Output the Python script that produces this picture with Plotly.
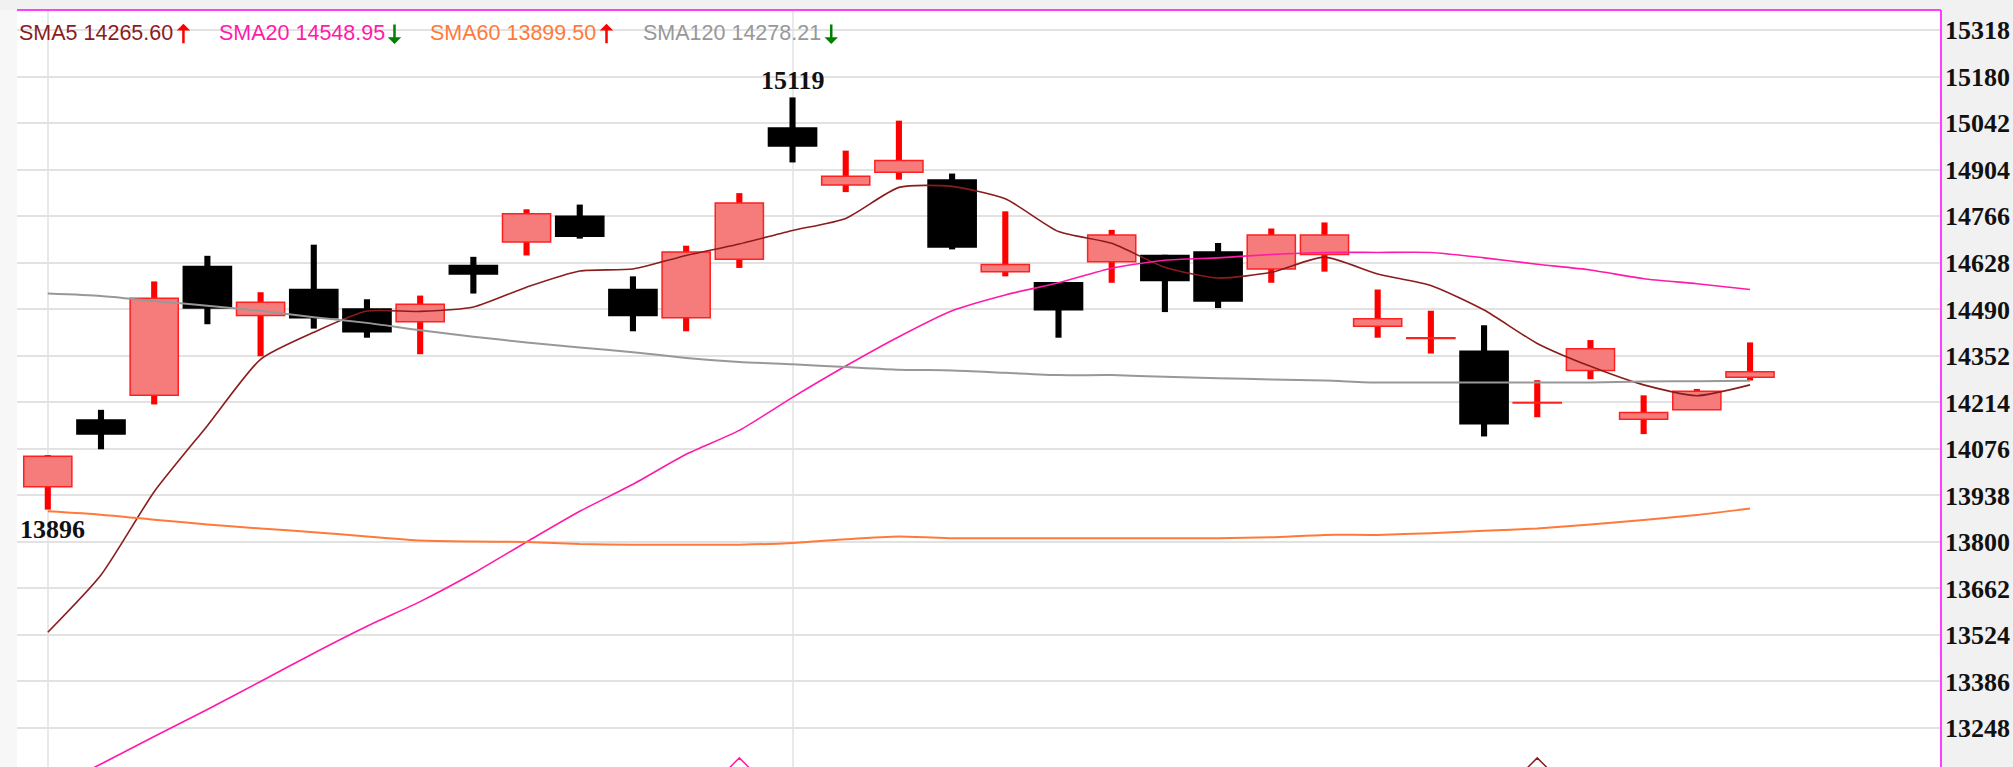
import plotly.graph_objects as go

# ---------------- data ----------------
days = list(range(33))
opens = [13964, 14162, 14235, 14617, 14472, 14549, 14491, 14453, 14620, 14690, 14766,
         14549, 14465, 14639, 15028, 14859, 14897, 14874, 14602, 14569, 14631, 14650,
         14660, 14610, 14653, 14440, 14404, 14366, 14212, 14309, 14164, 14192, 14289]
highs = [14058, 14192, 14573, 14649, 14541, 14682, 14520, 14531, 14646, 14787, 14801,
         14588, 14679, 14835, 15119, 14961, 15050, 14893, 14781, 14571, 14726, 14652,
         14687, 14730, 14748, 14549, 14486, 14443, 14280, 14399, 14235, 14254, 14392]
lows = [13896, 14075, 14208, 14446, 14351, 14433, 14406, 14357, 14537, 14650, 14700,
        14425, 14425, 14613, 14926, 14838, 14875, 14668, 14588, 14406, 14569, 14482,
        14494, 14569, 14602, 14406, 14359, 14113, 14170, 14283, 14120, 14192, 14279]
closes = [14054, 14120, 14523, 14494, 14511, 14465, 14424, 14505, 14595, 14774, 14707,
          14472, 14660, 14806, 14975, 14885, 14932, 14675, 14623, 14489, 14711, 14576,
          14515, 14711, 14711, 14462, 14406, 14151, 14214, 14373, 14184, 14247, 14305]

sma5 = [13532, 13702, 13949, 14145, 14342, 14422, 14485, 14484, 14497, 14556, 14604,
        14610, 14650, 14684, 14724, 14760, 14852, 14855, 14818, 14721, 14686, 14615,
        14583, 14600, 14645, 14595, 14561, 14488, 14389, 14321, 14266, 14234, 14266]
sma20 = [13062, 13141, 13223, 13303, 13386, 13470, 13550, 13623, 13707, 13800, 13891,
         13971, 14060, 14131, 14229, 14322, 14409, 14486, 14533, 14569, 14612, 14636,
         14643, 14653, 14659, 14659, 14659, 14643, 14624, 14607, 14581, 14566, 14549]
sma60 = [13891, 13881, 13866, 13852, 13840, 13829, 13816, 13804, 13801, 13800, 13794,
         13792, 13792, 13792, 13797, 13808, 13816, 13811, 13811, 13811, 13811, 13811,
         13811, 13814, 13821, 13821, 13826, 13833, 13840, 13852, 13865, 13880, 13899]
sma120 = [14537, 14530, 14515, 14501, 14486, 14467, 14450, 14428, 14409, 14392, 14377,
          14363, 14346, 14334, 14327, 14319, 14311, 14309, 14302, 14295, 14295, 14290,
          14286, 14282, 14279, 14273, 14273, 14273, 14273, 14273, 14276, 14277, 14278]

ma_names = ["SMA5", "SMA20", "SMA60", "SMA120"]
ma_last = ["14265.60", "14548.95", "13899.50", "14278.21"]
ma_trend = ["up", "down", "up", "down"]

y_ticks = [13248, 13386, 13524, 13662, 13800, 13938, 14076, 14214,
           14352, 14490, 14628, 14766, 14904, 15042, 15180, 15318]
month_starts = [0, 14]
signal_days = [13, 28]
signal_level = [13117, 13117]

# ---------------- styles ----------------
UP_FILL = "#f67c7c"
UP_EDGE = "#ff2020"
UP_WICK = "#ff0000"
DOWN = "#000000"
MA_COLORS = ["#8b1c1c", "#ff1aa8", "#ff7a3a", "#989898"]
MA_WIDTHS = [1.6, 1.6, 2.0, 2.0]
SERIF = "Liberation Serif, Times New Roman, serif"
SANS = "Liberation Sans, Arial, sans-serif"

is_up = [c >= o for o, c in zip(opens, closes)]

fig = go.Figure()

# wicks
fig.add_trace(go.Bar(
    x=days, y=[h - l for h, l in zip(highs, lows)], base=lows, width=0.115,
    marker=dict(color=[UP_WICK if u else DOWN for u in is_up], line=dict(width=0)),
    hoverinfo="skip", showlegend=False))
# bodies
fig.add_trace(go.Bar(
    x=days, y=[abs(c - o) for o, c in zip(opens, closes)],
    base=[min(o, c) for o, c in zip(opens, closes)], width=0.905,
    marker=dict(color=[UP_FILL if u else DOWN for u in is_up],
                line=dict(color=[UP_EDGE if u else DOWN for u in is_up], width=1.5)),
    hoverinfo="skip", showlegend=False))

for series, col, w in zip([sma5, sma20, sma60, sma120], MA_COLORS, MA_WIDTHS):
    fig.add_trace(go.Scatter(x=days, y=series, mode="lines",
                             line=dict(color=col, width=w, shape="spline", smoothing=0.6),
                             hoverinfo="skip", showlegend=False))

fig.add_trace(go.Scatter(
    x=signal_days, y=signal_level, mode="markers",
    marker=dict(symbol="diamond-open", size=22, color=[MA_COLORS[1], MA_COLORS[0]],
                line=dict(width=1.5, color=[MA_COLORS[1], MA_COLORS[0]])),
    hoverinfo="skip", showlegend=False))

# peak / trough labels
fig.add_annotation(x=days[highs.index(max(highs))], y=max(highs), text=str(max(highs)),
                   showarrow=False, yanchor="middle", yshift=17,
                   font=dict(family=SERIF, size=26, color="#111111", weight="bold"))
fig.add_annotation(x=days[lows.index(min(lows))], y=min(lows), text=str(min(lows)),
                   showarrow=False, yanchor="middle", yshift=-20, xshift=5,
                   font=dict(family=SERIF, size=26, color="#111111", weight="bold"))

# moving-average legend row (text + drawn trend arrow)
legend_x = [0.0002, 0.1038, 0.2136, 0.3242]
arrow_x = [0.0865, 0.1962, 0.3064, 0.4232]
for name, val, trend, col, lx, axp in zip(ma_names, ma_last, ma_trend, MA_COLORS,
                                          legend_x, arrow_x):
    fig.add_annotation(xref="paper", yref="paper", x=lx, y=0.9696, xanchor="left",
                       yanchor="middle", showarrow=False,
                       text=f"{name} {val}",
                       font=dict(family=SANS, size=21.5, color=col))
    up = trend == "up"
    fig.add_annotation(xref="paper", yref="paper", x=axp,
                       y=0.982 if up else 0.955, text="", showarrow=True,
                       ax=0, ay=21 if up else -21, arrowhead=1, arrowsize=0.9,
                       arrowwidth=2.5, standoff=0, startstandoff=0,
                       arrowcolor="#ff0000" if up else "#008000")

# frame: left patterned strip, top and right magenta borders
fig.add_shape(type="rect", xref="paper", yref="paper", x0=-0.0089, x1=0, y0=0, y1=1,
              fillcolor="#f7f7f7", line=dict(width=0), layer="below")
fig.add_shape(type="line", xref="paper", yref="paper", x0=0, x1=1, y0=1, y1=1,
              line=dict(color="#ff3cff", width=2))
fig.add_shape(type="line", xref="paper", yref="paper", x0=1, x1=1, y0=0, y1=1,
              line=dict(color="#ff3cff", width=2))

fig.update_layout(
    width=2013, height=767, autosize=False,
    margin=dict(l=17, r=72, t=10, b=0, pad=0),
    paper_bgcolor="#f1f1f1", plot_bgcolor="#ffffff",
    barmode="overlay", showlegend=False,
    xaxis=dict(range=[-0.579, 35.59], tickvals=month_starts, showticklabels=False,
               ticks="", showgrid=True, gridcolor="#e9e9e9", gridwidth=1.5,
               zeroline=False, showline=False, automargin=False),
    yaxis=dict(range=[13132.3, 15378.3], side="right", tickvals=y_ticks,
               ticktext=[str(v) for v in y_ticks], ticks="", ticklabelstandoff=3,
               tickfont=dict(family=SERIF, size=26, color="#111111", weight="bold"),
               showgrid=True, gridcolor="#e2e2e2", gridwidth=2, zeroline=False,
               showline=False, automargin=False),
)

fig.write_html("out.html", config={"displayModeBar": False},
               post_script="document.body.style.margin='0';")
